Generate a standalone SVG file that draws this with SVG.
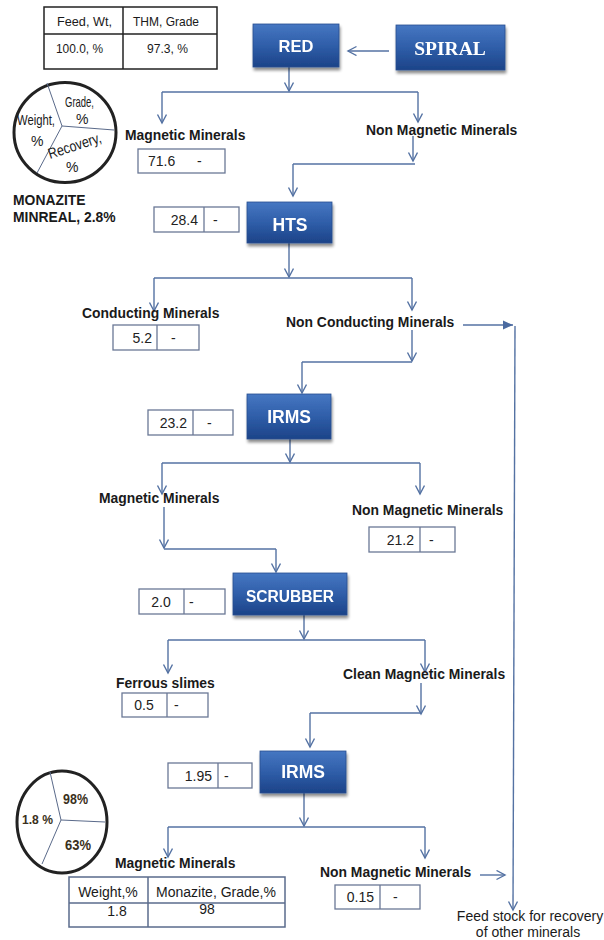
<svg xmlns="http://www.w3.org/2000/svg" width="604" height="940" viewBox="0 0 604 940">
<style>
  .proc rect.b { fill: url(#pg); stroke: #2a4f8f; stroke-width: 0.8; }
  .proc text { fill: #ffffff; font-family: "Liberation Sans", Arial, sans-serif; font-weight: bold; text-anchor: middle; }
  .lbl { font-family: "Liberation Sans", Arial, sans-serif; font-weight: bold; font-size: 13.9px; fill: #1a1a1a; }
  .val rect, .val line { fill: #ffffff; stroke: #6a7896; stroke-width: 1.3; }
  .val text { font-family: "Liberation Sans", Arial, sans-serif; font-size: 14px; fill: #222; }
  .conn line, .conn polyline { stroke: #5472a3; stroke-width: 1.4; fill: none; }
  .tbl { font-family: "Liberation Sans", Arial, sans-serif; fill: #1a1a1a; }
</style>
<defs>
  <linearGradient id="pg" x1="0" y1="0" x2="0" y2="1">
    <stop offset="0" stop-color="#4677c2"/>
    <stop offset="0.5" stop-color="#2f5ea9"/>
    <stop offset="1" stop-color="#1c4388"/>
  </linearGradient>
  <filter id="sh" x="-10%" y="-10%" width="130%" height="140%">
    <feGaussianBlur in="SourceAlpha" stdDeviation="1.5"/>
    <feOffset dx="1" dy="2.5" result="o"/>
    <feComponentTransfer><feFuncA type="linear" slope="0.45"/></feComponentTransfer>
    <feMerge><feMergeNode/><feMergeNode in="SourceGraphic"/></feMerge>
  </filter>
  <marker id="ah" markerUnits="userSpaceOnUse" markerWidth="12" markerHeight="12" refX="9" refY="5" orient="auto">
    <path d="M0.5,0.5 L9,5 L0.5,9.5" fill="none" stroke="#5472a3" stroke-width="1.4"/>
  </marker>
  <marker id="ahf" markerUnits="userSpaceOnUse" markerWidth="12" markerHeight="12" refX="10" refY="5" orient="auto">
    <path d="M0,0.5 L10,5 L0,9.5 Z" fill="#4a6aa0"/>
  </marker>
</defs>
<rect width="604" height="940" fill="#ffffff"/>

<!-- top table -->
<g id="feed-table" class="tbl">
  <rect x="44" y="7" width="173" height="62" fill="none" stroke="#222" stroke-width="1.5"/>
  <line x1="44" y1="34" x2="217" y2="34" stroke="#222" stroke-width="1.5"/>
  <line x1="123" y1="7" x2="123" y2="69" stroke="#222" stroke-width="1.5"/>
  <text x="57" y="26" font-size="13.5" textLength="55" lengthAdjust="spacingAndGlyphs">Feed, Wt,</text>
  <text x="133" y="26" font-size="13.5" textLength="66" lengthAdjust="spacingAndGlyphs">THM, Grade</text>
  <text x="56" y="53" font-size="13.5" textLength="47" lengthAdjust="spacingAndGlyphs">100.0, %</text>
  <text x="147" y="53" font-size="13.5" textLength="41" lengthAdjust="spacingAndGlyphs">97.3, %</text>
</g>

<!-- legend circle -->
<g id="legend-circle" class="tbl">
  <ellipse cx="65" cy="132.5" rx="51" ry="50" fill="none" stroke="#222" stroke-width="3"/>
  <line x1="62" y1="126" x2="47" y2="83" stroke="#5a6a8a" stroke-width="1"/>
  <line x1="62" y1="126" x2="114" y2="130" stroke="#5a6a8a" stroke-width="1"/>
  <line x1="62" y1="126" x2="37" y2="173" stroke="#5a6a8a" stroke-width="1"/>
  <text x="65" y="107" font-size="15" textLength="29" lengthAdjust="spacingAndGlyphs">Grade,</text>
  <text x="76" y="124" font-size="14">%</text>
  <text x="17" y="125" font-size="15" textLength="38" lengthAdjust="spacingAndGlyphs">Weight,</text>
  <text x="31" y="146" font-size="14">%</text>
  <text x="0" y="0" font-size="15" textLength="55" lengthAdjust="spacingAndGlyphs" transform="translate(50,159) rotate(-18)">Recovery,</text>
  <text x="66" y="172" font-size="14">%</text>
</g>
<g id="monazite-label">
  <text class="lbl" x="13" y="205">MONAZITE</text>
  <text class="lbl" x="13" y="222">MINREAL, 2.8%</text>
</g>

<!-- connectors -->
<g id="connectors" class="conn">
  <line x1="389" y1="51" x2="348" y2="51" marker-end="url(#ah)"/>
  <line x1="289" y1="67" x2="289" y2="91" marker-end="url(#ah)"/>
  <line x1="162" y1="92" x2="418" y2="92"/>
  <line x1="162" y1="92" x2="162" y2="123" marker-end="url(#ah)"/>
  <line x1="418" y1="92" x2="418" y2="122" marker-end="url(#ah)"/>
  <line x1="413" y1="136" x2="413" y2="161" marker-end="url(#ah)"/>
  <line x1="293" y1="164" x2="415" y2="164"/>
  <line x1="293" y1="164" x2="293" y2="196" marker-end="url(#ah)"/>
  <line x1="289" y1="243" x2="289" y2="277" marker-end="url(#ah)"/>
  <line x1="154" y1="278" x2="412" y2="278"/>
  <line x1="154" y1="278" x2="154" y2="311" marker-end="url(#ah)"/>
  <line x1="412" y1="278" x2="412" y2="310" marker-end="url(#ah)"/>
  <line x1="412" y1="330" x2="412" y2="361" marker-end="url(#ah)"/>
  <line x1="302" y1="362" x2="412" y2="362"/>
  <line x1="302" y1="362" x2="302" y2="393" marker-end="url(#ah)"/>
  <line x1="463" y1="325" x2="513" y2="325" marker-end="url(#ahf)"/>
  <line x1="515" y1="326" x2="513" y2="910" marker-end="url(#ah)"/>
  <line x1="290" y1="439" x2="290" y2="462" marker-end="url(#ah)"/>
  <line x1="162" y1="463" x2="420" y2="463"/>
  <line x1="162" y1="463" x2="162" y2="494" marker-end="url(#ah)"/>
  <line x1="420" y1="463" x2="420" y2="494" marker-end="url(#ah)"/>
  <line x1="164" y1="507" x2="164" y2="548" marker-end="url(#ah)"/>
  <line x1="164" y1="549" x2="276" y2="549"/>
  <line x1="276" y1="549" x2="276" y2="572" marker-end="url(#ah)"/>
  <line x1="304" y1="615" x2="304" y2="639" marker-end="url(#ah)"/>
  <line x1="168" y1="640" x2="425" y2="640"/>
  <line x1="168" y1="640" x2="168" y2="673" marker-end="url(#ah)"/>
  <line x1="425" y1="640" x2="425" y2="672" marker-end="url(#ah)"/>
  <line x1="421" y1="683" x2="421" y2="714" marker-end="url(#ah)"/>
  <line x1="310" y1="713" x2="421" y2="713"/>
  <line x1="310" y1="713" x2="310" y2="747" marker-end="url(#ah)"/>
  <line x1="304" y1="793" x2="304" y2="826" marker-end="url(#ah)"/>
  <line x1="168" y1="827" x2="425" y2="827"/>
  <line x1="168" y1="827" x2="168" y2="857" marker-end="url(#ah)"/>
  <line x1="425" y1="827" x2="425" y2="858" marker-end="url(#ah)"/>
  <line x1="480" y1="875" x2="505" y2="875" marker-end="url(#ah)"/>
</g>

<!-- process nodes -->
<g id="node-red" class="proc" filter="url(#sh)">
  <rect class="b" x="253" y="24" width="86" height="43"/>
  <text x="296" y="52" font-size="16.5">RED</text>
</g>
<g id="node-spiral" class="proc" filter="url(#sh)">
  <rect class="b" x="396" y="25" width="109" height="45"/>
  <text x="450" y="55" font-size="19.5" style="font-family:'Liberation Serif','Times New Roman',serif">SPIRAL</text>
</g>
<g id="node-hts" class="proc" filter="url(#sh)">
  <rect class="b" x="247" y="202" width="85" height="41"/>
  <text x="290" y="231" font-size="17.5">HTS</text>
</g>
<g id="node-irms1" class="proc" filter="url(#sh)">
  <rect class="b" x="247" y="394" width="84" height="45"/>
  <text x="289" y="423" font-size="17.5">IRMS</text>
</g>
<g id="node-scrubber" class="proc" filter="url(#sh)">
  <rect class="b" x="233" y="573" width="114" height="42"/>
  <text x="290" y="602" font-size="16" textLength="88" lengthAdjust="spacingAndGlyphs">SCRUBBER</text>
</g>
<g id="node-irms2" class="proc" filter="url(#sh)">
  <rect class="b" x="260" y="751" width="86" height="42"/>
  <text x="303" y="778" font-size="17.5">IRMS</text>
</g>

<!-- stream labels -->
<g id="label-mag1"><text class="lbl" x="125" y="140">Magnetic Minerals</text></g>
<g id="label-nonmag1"><text class="lbl" x="366" y="135">Non Magnetic Minerals</text></g>
<g id="label-cond"><text class="lbl" x="82" y="318">Conducting Minerals</text></g>
<g id="label-noncond"><text class="lbl" x="286" y="327">Non Conducting Minerals</text></g>
<g id="label-mag2"><text class="lbl" x="99" y="503">Magnetic Minerals</text></g>
<g id="label-nonmag2"><text class="lbl" x="352" y="515">Non Magnetic Minerals</text></g>
<g id="label-ferrous"><text class="lbl" x="116" y="688">Ferrous slimes</text></g>
<g id="label-clean"><text class="lbl" x="343" y="679">Clean Magnetic Minerals</text></g>
<g id="label-mag3"><text class="lbl" x="115" y="868">Magnetic Minerals</text></g>
<g id="label-nonmag3"><text class="lbl" x="320" y="877">Non Magnetic Minerals</text></g>

<!-- value boxes -->
<g id="val-716" class="val">
  <rect x="138" y="149" width="87" height="24"/>
  <text x="148" y="166">71.6</text><text x="197" y="166">-</text>
</g>
<g id="val-284" class="val">
  <rect x="154" y="207" width="85" height="25"/><line x1="204" y1="207" x2="204" y2="232"/>
  <text x="198" y="225" text-anchor="end">28.4</text><text x="213" y="225">-</text>
</g>
<g id="val-52" class="val">
  <rect x="113" y="325" width="86" height="25"/><line x1="157" y1="325" x2="157" y2="350"/>
  <text x="152" y="343" text-anchor="end">5.2</text><text x="171" y="343">-</text>
</g>
<g id="val-232" class="val">
  <rect x="148" y="410" width="85" height="25"/><line x1="193" y1="410" x2="193" y2="435"/>
  <text x="187" y="428" text-anchor="end">23.2</text><text x="207" y="428">-</text>
</g>
<g id="val-212" class="val">
  <rect x="369" y="527" width="86" height="25"/><line x1="420" y1="527" x2="420" y2="552"/>
  <text x="414" y="545" text-anchor="end">21.2</text><text x="429" y="545">-</text>
</g>
<g id="val-20" class="val">
  <rect x="139" y="589" width="86" height="25"/><line x1="184" y1="589" x2="184" y2="614"/>
  <text x="161" y="607" text-anchor="middle">2.0</text><text x="189" y="607">-</text>
</g>
<g id="val-05" class="val">
  <rect x="122" y="693" width="86" height="24"/><line x1="167" y1="693" x2="167" y2="717"/>
  <text x="144" y="710" text-anchor="middle">0.5</text><text x="174" y="710">-</text>
</g>
<g id="val-195" class="val">
  <rect x="168" y="763" width="84" height="25"/><line x1="218" y1="763" x2="218" y2="788"/>
  <text x="212" y="781" text-anchor="end">1.95</text><text x="224" y="781">-</text>
</g>
<g id="val-015" class="val">
  <rect x="335" y="885" width="85" height="24"/><line x1="380" y1="885" x2="380" y2="909"/>
  <text x="374" y="902" text-anchor="end">0.15</text><text x="393" y="902">-</text>
</g>

<!-- bottom circle -->
<g id="result-circle" class="tbl">
  <ellipse cx="62" cy="822" rx="45" ry="51" fill="none" stroke="#222" stroke-width="3"/>
  <line x1="61" y1="820" x2="50" y2="772" stroke="#5a6a8a" stroke-width="1"/>
  <line x1="61" y1="820" x2="105" y2="822" stroke="#5a6a8a" stroke-width="1"/>
  <line x1="61" y1="820" x2="42" y2="864" stroke="#5a6a8a" stroke-width="1"/>
  <text x="63" y="804" font-size="14" font-weight="bold" fill="#3a3020" textLength="25" lengthAdjust="spacingAndGlyphs">98%</text>
  <text x="22" y="824" font-size="13.5" font-weight="bold" fill="#3a3020" textLength="31" lengthAdjust="spacingAndGlyphs">1.8 %</text>
  <text x="65" y="850" font-size="14.5" font-weight="bold" fill="#3a3020" textLength="26" lengthAdjust="spacingAndGlyphs">63%</text>
</g>

<!-- bottom table -->
<g id="result-table" class="tbl">
  <rect x="69" y="877" width="216" height="50" fill="none" stroke="#5a6b8c" stroke-width="1.5"/>
  <line x1="69" y1="903" x2="285" y2="903" stroke="#5a6b8c" stroke-width="1.5"/>
  <line x1="148" y1="877" x2="148" y2="927" stroke="#5a6b8c" stroke-width="1.5"/>
  <text x="108" y="897" font-size="14" text-anchor="middle">Weight,%</text>
  <text x="216" y="897" font-size="14" text-anchor="middle">Monazite, Grade,%</text>
  <text x="117" y="916" font-size="14" text-anchor="middle">1.8</text>
  <text x="207" y="914" font-size="14" text-anchor="middle">98</text>
</g>

<!-- feed stock label -->
<g id="feedstock-label" class="tbl">
  <text x="530" y="921" font-size="14" text-anchor="middle">Feed stock for recovery</text>
  <text x="528" y="937" font-size="14" text-anchor="middle">of other minerals</text>
</g>
</svg>
